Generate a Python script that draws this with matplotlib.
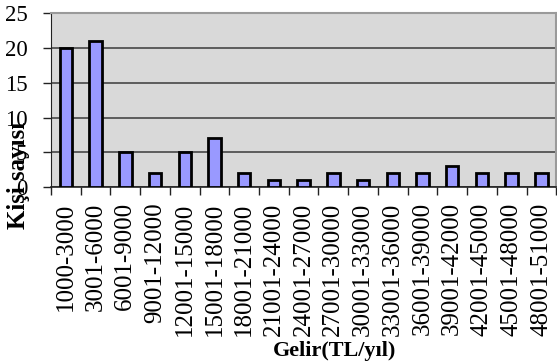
import numpy as np
import matplotlib.pyplot as plt

# income brackets (TL/year) and number of people in each
gelir_araliklari = ["1000-3000", "3001-6000", "6001-9000", "9001-12000",
                    "12001-15000", "15001-18000", "18001-21000", "21001-24000",
                    "24001-27000", "27001-30000", "30001-33000", "33001-36000",
                    "36001-39000", "39001-42000", "42001-45000", "45001-48000",
                    "48001-51000"]
kisi_sayisi = [20, 21, 5, 2, 5, 7, 2, 1, 1, 2, 1, 2, 2, 3, 2, 2, 2]
y_ticks = [0, 5, 10, 15, 20, 25]

plt.rcParams["font.family"] = ["Liberation Serif", "DejaVu Serif"]

fig = plt.figure(figsize=(5.57, 3.64), dpi=100)
ax = fig.add_axes([0.0916, 0.486, 0.907, 0.477])
ax.set_facecolor("#d9d9d9")

x = np.arange(len(kisi_sayisi))
ax.bar(x, kisi_sayisi, width=0.42, color="#9999ff", edgecolor="black",
       linewidth=2, zorder=3)

ax.set_xlim(-0.5, len(kisi_sayisi) - 0.5)
ax.set_ylim(0, 25)
ax.set_yticks(y_ticks)
ax.set_yticklabels([str(v) for v in y_ticks], fontsize=16.5)
ax.yaxis.grid(True, color="#3a3a3a", linewidth=1.1, zorder=1)
ax.tick_params(axis="y", length=6, width=1, pad=11, color="#222222")

# category labels in the middle, tick marks on the boundaries
ax.set_xticks(x)
ax.set_xticklabels(gelir_araliklari, rotation=90, fontsize=18)
ax.set_xticks(np.arange(len(kisi_sayisi) + 1) - 0.5, minor=True)
ax.tick_params(axis="x", which="major", length=0, pad=11)
ax.tick_params(axis="x", which="minor", length=6, width=1, color="#222222")

for side in ["top", "right"]:
    ax.spines[side].set_color("#9a9a9a")
    ax.spines[side].set_linewidth(1.5)
ax.spines["left"].set_color("#222222")
ax.spines["bottom"].set_color("#222222")
ax.spines["bottom"].set_linewidth(1.2)

fig.text(0.601, 0.036, "Gelir(TL/yıl)", ha="center", va="center",
         fontsize=16, fontweight="bold")
fig.text(0.033, 0.519, "Kişi sayısı", ha="center", va="center",
         rotation=90, fontsize=18, fontweight="bold")

fig.savefig("out.png", dpi=100)
plt.close(fig)
